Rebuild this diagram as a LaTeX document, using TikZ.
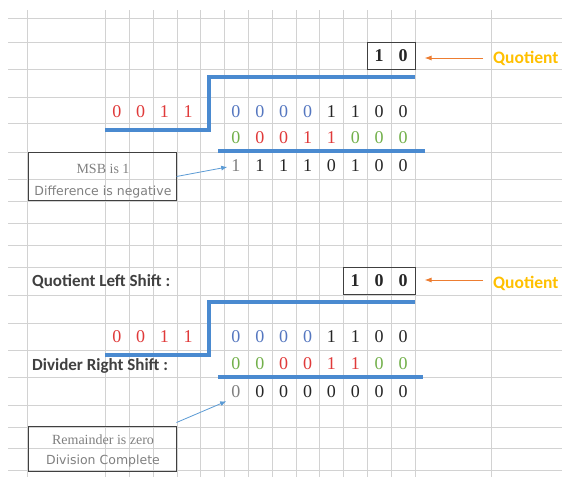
\documentclass[tikz,border=0pt]{standalone}
\usepackage{fontspec}
\setmainfont{Liberation Serif}
\newfontfamily\dej{DejaVu Sans}
\newfontfamily\carl{Carlito}
\usetikzlibrary{arrows.meta}
\definecolor{gridc}{HTML}{D2D2D2}
\definecolor{thickblue}{HTML}{4A8AD0}
\definecolor{dblue}{HTML}{5577C0}
\definecolor{dred}{HTML}{E03A3A}
\definecolor{dgreen}{HTML}{72B04A}
\definecolor{dblack}{HTML}{262626}
\definecolor{dgrey}{HTML}{7F7F7F}
\definecolor{boxtext}{HTML}{808080}
\definecolor{labeltext}{HTML}{404040}
\definecolor{arrorange}{HTML}{ED7D31}
\definecolor{gold}{HTML}{FFC000}
\definecolor{arrblue}{HTML}{5B9BD5}
\begin{document}
\begin{tikzpicture}[x=1pt,y=-1pt,
  gridline/.style={gridc,line width=0.8pt},
  digit/.style={inner sep=0pt,font=\fontsize{18}{18}\selectfont},
  qdigit/.style={inner sep=0pt,font=\fontsize{18}{18}\selectfont\bfseries,text=dblack},
  qbox/.style={draw=labeltext,line width=1pt,inner sep=0pt,minimum height=27pt},
  stepline/.style={thickblue,line width=3.5pt},
  notebox/.style={draw=labeltext,line width=1pt,inner sep=0pt,minimum width=148pt,minimum height=48pt},
  serifnote/.style={inner sep=0pt,text=boxtext,font=\fontsize{14}{14}\selectfont},
  sansnote/.style={inner sep=0pt,text=boxtext,font=\dej\fontsize{12.5}{12.5}\selectfont},
  sidelabel/.style={inner sep=0pt,anchor=west,text=labeltext,font=\carl\bfseries\fontsize{17}{17}\selectfont},
  qlabel/.style={inner sep=0pt,anchor=west,text=gold,font=\carl\bfseries\fontsize{17.5}{17.5}\selectfont},
  orangearrow/.style={arrorange,line width=1pt,-{Latex[length=7pt,width=5pt]}},
  bluearrow/.style={arrblue,line width=0.8pt,-{Latex[length=6pt,width=5pt]}}
]
\useasboundingbox (0,0) rectangle (567,477);
\fill[white] (0,0) rectangle (567,477);
% grid
\foreach \yy in {18,42,69,97,123,152,179,201,223,245,267,295,323,350,377,405,427,448,470}
  \draw[gridline] (8,\yy) -- (562,\yy);
\foreach \xx in {27,105,129,153,177,200,224,248,272,296,319,343,367,391,415,491}
  \draw[gridline] (\xx,10) -- (\xx,477);

% ===== top section =====
\node[qbox,minimum width=48pt] (qtop) at (391,55.5) {};
\node[qdigit] (qt1) at (379,56) {1};
\node[qdigit] (qt2) at (403,56) {0};
\coordinate (qtarr) at (483,58);
\draw[orangearrow,shorten >=9pt] (qtarr) -- (qtarr -| qtop.east);
\node[qlabel] (qtlab) at (493,58) {Quotient};

\draw[stepline] (105,130) -- (209,130) -- (209,77) -- (415,77);
\draw[stepline] (218,151) -- (425,151);

\foreach \d [count=\i] in {0,0,1,1}
  \node[digit,text=dred] (dvt\i) at ({93.125+23.75*\i},112) {\d};
\foreach \d/\c [count=\i] in {0/dblue,0/dblue,0/dblue,0/dblue,1/dblack,1/dblack,0/dblack,0/dblack}
  \node[digit,text=\c] (ta\i) at ({212.06+23.875*\i},112) {\d};
\foreach \d/\c [count=\i] in {0/dgreen,0/dred,0/dred,1/dred,1/dred,0/dgreen,0/dgreen,0/dgreen}
  \node[digit,text=\c] (tb\i) at ({212.06+23.875*\i},138) {\d};
\foreach \d/\c [count=\i] in {1/dgrey,1/dblack,1/dblack,1/dblack,0/dblack,1/dblack,0/dblack,0/dblack}
  \node[digit,text=\c] (tc\i) at ({212.06+23.875*\i},166) {\d};

\node[notebox] (msb) at (102,176.5) {};
\node[serifnote] (msbl1) at (103,169) {MSB is 1};
\node[sansnote] (msbl2) at (103,192) {Difference is negative};
\draw[bluearrow] (msb.east) -- ([xshift=-4pt,yshift=-1pt]tc1.west);

% ===== bottom section =====
\node[sidelabel] (qls) at (32,282) {Quotient Left Shift :};
\node[qbox,minimum width=72pt] (qbot) at (379,280.5) {};
\node[qdigit] (qb1) at (355,281) {1};
\node[qdigit] (qb2) at (379,281) {0};
\node[qdigit] (qb3) at (403,281) {0};
\coordinate (qbarr) at (483,280);
\draw[orangearrow,shorten >=9pt] (qbarr) -- (qbarr -| qbot.east);
\node[qlabel] (qblab) at (493,283) {Quotient};

\draw[stepline] (105,355) -- (209,355) -- (209,302) -- (415,302);
\draw[stepline] (218,377) -- (423,377);

\foreach \d [count=\i] in {0,0,1,1}
  \node[digit,text=dred] (dvb\i) at ({93.125+23.75*\i},337) {\d};
\foreach \d/\c [count=\i] in {0/dblue,0/dblue,0/dblue,0/dblue,1/dblack,1/dblack,0/dblack,0/dblack}
  \node[digit,text=\c] (ba\i) at ({212.06+23.875*\i},337) {\d};
\foreach \d/\c [count=\i] in {0/dgreen,0/dgreen,0/dred,0/dred,1/dred,1/dred,0/dgreen,0/dgreen}
  \node[digit,text=\c] (bb\i) at ({212.06+23.875*\i},364) {\d};
\foreach \d/\c [count=\i] in {0/dgrey,0/dblack,0/dblack,0/dblack,0/dblack,0/dblack,0/dblack,0/dblack}
  \node[digit,text=\c] (bc\i) at ({212.06+23.875*\i},392) {\d};
\node[sidelabel] (drs) at (32,366) {Divider Right Shift :};

\node[notebox,minimum height=45pt] (rem) at (102,448.5) {};
\node[serifnote] (reml1) at (103,440) {Remainder is zero};
\node[sansnote] (reml2) at (103,461) {Division Complete};
\draw[bluearrow] ([yshift=3pt]rem.north east) -- ([xshift=-5pt,yshift=-3pt]bc1.south west);
\end{tikzpicture}
\end{document}
